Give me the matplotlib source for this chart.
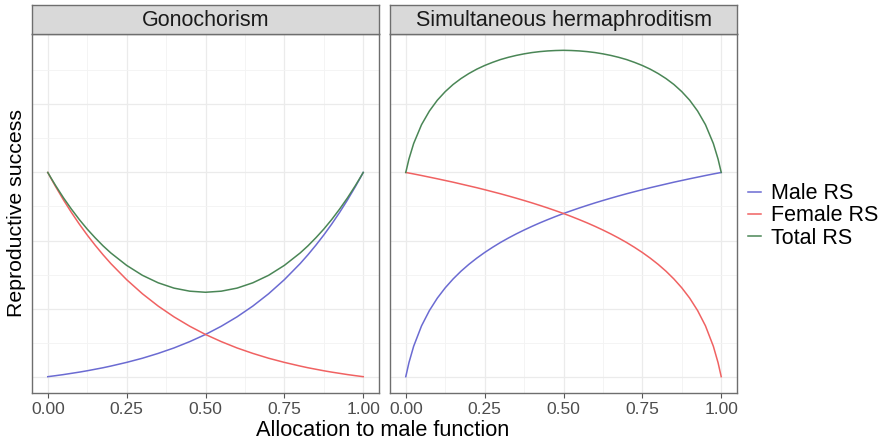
import numpy as np
import matplotlib
matplotlib.use('Agg')
import matplotlib.pyplot as plt

plt.rcParams['font.family'] = ['Liberation Sans', 'DejaVu Sans']

# gonochorism
gono_alloc = [0, 0.01, 0.025, 0.05, 0.075, 0.1, 0.125, 0.15, 0.175, 0.2, 0.25, 0.3, 0.35, 0.4,
              0.45, 0.5, 0.55, 0.6, 0.65, 0.7, 0.75, 0.8, 0.825, 0.85, 0.875, 0.9, 0.925,
              0.95, 0.975, 0.99, 1.0]
gono_male = [0, 0.006, 0.015, 0.031, 0.049, 0.067, 0.087, 0.109, 0.131, 0.156, 0.210,
             0.271, 0.342, 0.422, 0.515, 0.620, 0.741, 0.879, 1.037, 1.218, 1.425, 1.661,
             1.792, 1.932, 2.081, 2.241, 2.412, 2.595, 2.791, 2.915, 3.0]
gono_female = [3.0, 2.915, 2.791, 2.595, 2.412, 2.241, 2.081, 1.932, 1.792, 1.661, 1.425,
               1.218, 1.037, 0.879, 0.741, 0.620, 0.515, 0.422, 0.342, 0.271, 0.210, 0.156,
               0.131, 0.109, 0.087, 0.067, 0.049, 0.031, 0.015, 0.006, 0]
gono_total = [3.0, 2.921, 2.806, 2.626, 2.461, 2.308, 2.168, 2.041, 1.923, 1.817, 1.635,
              1.489, 1.379, 1.301, 1.256, 1.240, 1.256, 1.301, 1.379, 1.489, 1.635, 1.817,
              1.923, 2.041, 2.168, 2.308, 2.461, 2.626, 2.806, 2.921, 3.0]

# simultaneous hermaphroditism
herm_alloc = [0, 0.01, 0.025, 0.05, 0.075, 0.1, 0.125, 0.15, 0.175, 0.2, 0.225, 0.25,
              0.275, 0.3, 0.325, 0.35, 0.375, 0.4, 0.425, 0.45, 0.475, 0.5, 0.525, 0.55,
              0.575, 0.6, 0.625, 0.65, 0.675, 0.7, 0.725, 0.75, 0.775, 0.8, 0.825, 0.85,
              0.875, 0.9, 0.925, 0.95, 0.975, 0.99, 1.0]
herm_male = [0, 0.205, 0.447, 0.747, 0.972, 1.154, 1.305, 1.435, 1.549, 1.650, 1.741, 1.824,
             1.900, 1.971, 2.036, 2.097, 2.154, 2.208, 2.259, 2.307, 2.353, 2.397, 2.438,
             2.478, 2.516, 2.553, 2.588, 2.622, 2.655, 2.687, 2.717, 2.747, 2.776, 2.803,
             2.830, 2.857, 2.882, 2.907, 2.931, 2.955, 2.978, 2.991, 3.0]
herm_female = [3.0, 2.991, 2.978, 2.955, 2.931, 2.907, 2.882, 2.857, 2.830, 2.803, 2.776,
               2.747, 2.717, 2.687, 2.655, 2.622, 2.588, 2.553, 2.516, 2.478, 2.438, 2.397,
               2.353, 2.307, 2.259, 2.208, 2.154, 2.097, 2.036, 1.971, 1.900, 1.824, 1.741,
               1.650, 1.549, 1.435, 1.305, 1.154, 0.972, 0.747, 0.447, 0.205, 0]
herm_total = [3.0, 3.196, 3.425, 3.702, 3.903, 4.061, 4.187, 4.292, 4.379, 4.453, 4.517,
              4.571, 4.617, 4.658, 4.691, 4.719, 4.742, 4.761, 4.775, 4.785, 4.791, 4.794,
              4.791, 4.785, 4.775, 4.761, 4.742, 4.719, 4.691, 4.658, 4.617, 4.571, 4.517,
              4.453, 4.379, 4.292, 4.187, 4.061, 3.903, 3.702, 3.425, 3.196, 3.0]

panels = ['Gonochorism', 'Simultaneous hermaphroditism']
series_names = ['Male RS', 'Female RS', 'Total RS']
colors = ['#6b6bd2', '#f06262', '#4a8656']
xticks = [0, 0.25, 0.5, 0.75, 1.0]
xticklabels = ['0.00', '0.25', '0.50', '0.75', '1.00']

data = [(gono_alloc, [gono_male, gono_female, gono_total]),
        (herm_alloc, [herm_male, herm_female, herm_total])]

W, H = 886, 445
fig = plt.figure(figsize=(W / 100, H / 100), dpi=100)

ymax = max(max(gono_total), max(herm_total))
pad = 0.05 * ymax

lefts = [32, 390]
pw = 347
top, bottom = 34, 393
strip_top = 5
border = '#6e6e6e'

handles = []
for i, name in enumerate(panels):
    ax = fig.add_axes([lefts[i] / W, 1 - bottom / H, pw / W, (bottom - top) / H])
    ax.set_xlim(-0.05, 1.05)
    ax.set_ylim(-pad, ymax + pad)
    ax.set_xticks(xticks)
    ax.set_xticks([0.125, 0.375, 0.625, 0.875], minor=True)
    ax.set_yticks([0, 1, 2, 3, 4])
    ax.set_yticks([0.5, 1.5, 2.5, 3.5, 4.5], minor=True)
    ax.set_xticklabels(xticklabels)
    ax.set_yticklabels([])
    ax.grid(which='major', color='#ebebeb', linewidth=0.9)
    ax.grid(which='minor', color='#f3f3f3', linewidth=0.6)
    ax.set_axisbelow(True)
    ax.tick_params(axis='y', which='both', length=0)
    ax.tick_params(axis='x', which='minor', length=0)
    ax.tick_params(axis='x', which='major', length=3.5, color='#555555',
                   labelsize=12.5, labelcolor='#4d4d4d', pad=3)
    for s in ax.spines.values():
        s.set_color(border)
        s.set_linewidth(1.0)
    xs, series = data[i]
    for j, vals in enumerate(series):
        ln, = ax.plot(xs, vals, color=colors[j], linewidth=1.1,
                      label=series_names[j])
        if i == 0:
            handles.append(ln)

    sx = fig.add_axes([lefts[i] / W, 1 - top / H, pw / W, (top - strip_top) / H])
    sx.set_facecolor('#d9d9d9')
    sx.set_xticks([])
    sx.set_yticks([])
    for s in sx.spines.values():
        s.set_color(border)
        s.set_linewidth(1.0)
    sx.text(0.5, 0.45, name, ha='center', va='center', fontsize=15.5,
            color='#1a1a1a', transform=sx.transAxes)

fig.text(383 / W, 1 - 431 / H, 'Allocation to male function', ha='center',
         va='center', fontsize=15.7)
fig.text(17 / W, 1 - 213 / H, 'Reproductive success', ha='center',
         va='center', rotation=90, fontsize=15.3)

fig.legend(handles=handles, loc='center left',
           bbox_to_anchor=(739 / W, 1 - 216 / H), frameon=False,
           fontsize=15.5, handlelength=0.6, handletextpad=0.5,
           labelspacing=0.05, borderaxespad=0)

fig.savefig('out.png', dpi=100)
